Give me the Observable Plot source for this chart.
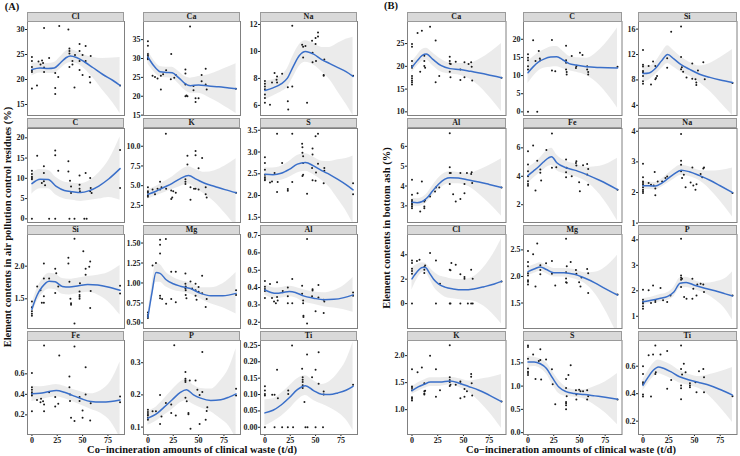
<!DOCTYPE html>
<html><head><meta charset="utf-8">
<script src="https://cdn.jsdelivr.net/npm/d3@7"></script>
<script src="https://cdn.jsdelivr.net/npm/@observablehq/plot@0.6"></script>
<style>
body{margin:0;background:#fff;}
#chart{position:relative;width:740px;height:456px;background:#fff;overflow:hidden;font-family:"Liberation Serif","Times New Roman",serif;font-weight:bold;color:#111;}
.strip{position:absolute;box-sizing:border-box;background:#d9d9d9;border:1px solid #9a9a9a;font-size:8px;line-height:8px;text-align:center;color:#1a1a1a;}
.lab{position:absolute;white-space:nowrap;line-height:1;}
</style></head><body><div id="chart"></div>
<script>
// ---------- data: x = co-incineration amount (t/d), y = content (%) ----------
// fit rows: [x, smoothed value, half-width of confidence band]
const xTicks = [0, 25, 50, 75];

// Panel A: air pollution control residues
const A_Cl_pts = [[0,24.5],[0,23.7],[0,22.5],[0,21.8],[0,21.5],[0,18.2],[5,18.8],[6.5,23.6],[8.5,23.0],[10,23.8],[11,23.3],[12,22.4],[12,21.5],[12,30.3],[17,24.3],[23,21.3],[23,18.3],[23,17.1],[26,20.5],[27,30.7],[36,30.0],[37,22.5],[37,25.2],[37,25.7],[37,26.2],[40,23.0],[40,23.7],[42,18.4],[42.5,24.9],[47,27.1],[47,25.7],[47,23.7],[47,21.9],[50,20.9],[50,24.9],[53,26.7],[53,23.7],[57,20.5],[57.5,19.4],[58,24.7],[87,18.8]];
const A_Cl_fit = [[0,22.0,1.3],[8,22.3,1.0],[16,22.2,1.0],[22,22.3,1.1],[28,23.3,1.2],[34,24.4,1.3],[38,24.7,1.3],[44,24.4,1.2],[52,23.5,1.4],[60,22.4,2.0],[70,21.0,3.2],[80,19.8,4.5],[87,18.8,5.6]];
const A_Cl_dom = [12.8, 31.6], A_Cl_ticks = [15,20,25,30];

const A_Ca_pts = [[0,34.6],[0,33.4],[0,31.2],[0,30.7],[0,30.3],[0,29.8],[0,30.0],[4.6,25.4],[7,25.1],[9.5,24.7],[12.8,25.4],[12.8,21.8],[15,25.8],[18,26.9],[22.6,24.5],[23,31.2],[26,24.9],[27.5,25.6],[37,27.1],[37,26.0],[37,23.1],[37,20.0],[38,20.2],[39,20.0],[41.6,38.5],[45,22.7],[45,21.6],[47,19.5],[47,18.5],[50,19.5],[53,25.6],[53,24.0],[57,27.3],[57,23.1],[58,21.8],[86.8,22.0]];
const A_Ca_fit = [[0,30.4,1.8],[6,28.0,1.5],[12,26.5,1.4],[18,26.3,1.4],[24,26.2,1.5],[30,25.0,1.6],[36,23.5,1.8],[42,22.8,2.0],[50,23.0,2.2],[60,22.7,3.0],[70,22.5,4.2],[80,22.2,5.6],[87,22.0,6.6]];
const A_Ca_dom = [14.9, 39.8], A_Ca_ticks = [15,20,25,30,35];

const A_Na_pts = [[0,7.8],[0,7.6],[0,7.4],[0,7.2],[0,6.8],[0,6.55],[0,6.2],[5,6.05],[7,7.7],[9.5,8.4],[11.5,7.9],[12,8.15],[12,7.7],[17,8.35],[22.6,6.3],[22.6,7.35],[23,5.7],[27,7.4],[27,11.9],[36.7,10.5],[37.7,10.35],[37.7,9.55],[40,10.4],[41.6,6.2],[46.5,10.8],[47,9.9],[47,9.2],[50,11.0],[50,10.55],[52.4,11.4],[52.4,11.1],[50.4,9.3],[58,8.25],[58,8.2],[58.6,9.4],[87,8.2]];
const A_Na_fit = [[0,7.1,0.7],[8,7.3,0.6],[16,7.6,0.6],[22,8.0,0.7],[28,8.9,0.8],[34,9.7,0.8],[40,10.0,0.8],[48,9.8,0.8],[56,9.4,0.9],[64,9.1,1.2],[72,8.8,1.8],[80,8.5,2.4],[87,8.15,2.9]];
const A_Na_dom = [5.25, 12.22], A_Na_ticks = [6,8,10,12];

const A_C_pts = [[0,0],[0,11.9],[0,11.1],[0,10.4],[0,10.1],[0,9.8],[5.2,15.6],[9.8,8.85],[11.8,13],[11.8,11.3],[11.8,9.3],[13,8.3],[17,0],[23,0],[23,16.9],[23,15.7],[26,11.9],[36,14.2],[36,11.7],[37,0],[37.6,9.4],[38.6,8.0],[38.6,6.4],[42,0],[47,10.7],[47,8.4],[47,7.4],[47.4,6.8],[51.7,0],[54,0],[53,11.3],[57.5,10.1],[57.5,6.8],[58,7.6],[58.9,6.4],[87,17],[87,7.6]];
const A_C_fit = [[0,8.7,2.6],[8,9.8,2.4],[16,9.7,2.3],[24,8.0,2.2],[32,7.0,2.1],[40,6.7,2.1],[48,6.5,2.2],[56,6.9,2.4],[66,8.1,3.2],[76,9.9,4.6],[87,12.4,7.8]];
const A_C_dom = [-0.9, 22.3], A_C_ticks = [0,5,10,15,20];

const A_K_pts = [[0,4.8],[0,4.3],[0,4.1],[0,3.8],[0,3.6],[4.6,4.5],[7,3.9],[9.5,4.6],[12,4.5],[12,5.5],[13.4,4.8],[17.7,11.6],[18,4.6],[23,4.4],[24,3.5],[25,4.3],[23,3.3],[27.5,4.1],[39,8.8],[39,7.7],[37,5.8],[37,5.2],[37,5.5],[47,9.4],[47,8.85],[53.5,8.5],[50,7.2],[42,4.8],[47,4.6],[50,4.5],[42,3.2],[57,4.8],[57,3.9],[58,3.5],[87,4.1],[45.5,4.6]];
const A_K_fit = [[0,3.9,0.6],[8,4.3,0.6],[16,4.8,0.7],[24,5.3,0.8],[32,5.9,1.0],[40,6.3,1.1],[48,5.8,1.2],[56,5.3,1.4],[66,4.9,2.0],[76,4.5,3.0],[87,4.1,4.3]];
const A_K_dom = [0.33, 12.25], A_K_ticks = [2.5,5,7.5,10];

const A_S_pts = [[0,2.88],[0,2.75],[0,2.59],[0,2.48],[0,2.42],[0,2.38],[0,2.35],[5,2.3],[7,2.32],[9.5,2.52],[12,3.42],[12,2.08],[12.6,2.31],[17,2.75],[22.6,2.15],[22.6,2.11],[27,3.42],[27,2.31],[36.7,3.19],[37,3.11],[37,2.98],[37.7,2.9],[37.7,2.75],[37.7,2.48],[37,2.45],[41.6,2.04],[46.5,2.63],[47,2.94],[47,3.08],[47,2.35],[50,3.36],[52.4,3.42],[50,2.34],[52.4,2.73],[50.4,2.53],[58,2.28],[58.6,2.57],[58.6,2.63],[87,2.28],[87,2.03]];
const A_S_fit = [[0,2.49,0.15],[8,2.48,0.15],[16,2.51,0.16],[24,2.6,0.18],[32,2.72,0.2],[40,2.76,0.2],[48,2.68,0.2],[56,2.57,0.22],[64,2.48,0.3],[72,2.37,0.45],[80,2.25,0.6],[87,2.13,0.78]];
const A_S_dom = [1.38, 3.54], A_S_ticks = [1.5,2,2.5,3,3.5];

const A_Si_pts = [[0,1.31],[0,1.27],[0,1.24],[0,1.46],[0,1.37],[5.2,1.69],[8.5,1.63],[9.8,1.44],[11.8,1.44],[11.8,1.54],[11.8,1.81],[11.8,2.04],[17,1.81],[23,1.96],[23,1.59],[26,1.69],[24,1.89],[36,2.13],[36,2.04],[37,1.76],[38,1.5],[38.6,1.43],[38.6,1.41],[42,2.42],[42,1.12],[47,1.61],[47,1.56],[47,1.53],[47,1.5],[47.4,1.74],[50.7,2.23],[53,1.87],[53,1.96],[56.6,1.99],[57.5,2.07],[58,1.62],[57.5,1.36],[87,1.7],[87,1.58]];
const A_Si_fit = [[0,1.34,0.08],[5,1.55,0.1],[10,1.68,0.11],[17,1.77,0.12],[23,1.76,0.12],[30,1.69,0.12],[37,1.68,0.12],[46,1.7,0.12],[55,1.72,0.12],[65,1.71,0.15],[75,1.68,0.22],[87,1.63,0.38]];
const A_Si_dom = [1.045, 2.485], A_Si_ticks = [1.5,2.0];

const A_Mg_pts = [[0,0.58],[0,0.56],[0,0.63],[0,0.6],[4.6,1.22],[7.9,1.25],[12,1.54],[12,1.48],[12,1.37],[12,0.84],[12,0.81],[17.7,1.55],[14,0.8],[18,0.74],[23,1.14],[27.5,1.14],[23,0.8],[27.5,0.76],[37,1.12],[37,0.99],[37,0.93],[37.3,0.955],[37.3,0.91],[37.3,0.85],[38,0.81],[42,1.02],[43.6,0.93],[47,0.99],[47,0.91],[47,0.84],[48,0.79],[50,0.95],[50,0.89],[53.5,1.09],[53.5,0.87],[58,0.8],[57,0.7],[87,0.91],[87,0.85]];
const A_Mg_fit = [[0,0.57,0.05],[4,0.88,0.09],[8,1.13,0.12],[12,1.12,0.11],[18,1.04,0.09],[25,0.99,0.08],[32,0.96,0.07],[42,0.93,0.07],[52,0.87,0.07],[62,0.84,0.1],[74,0.84,0.15],[87,0.87,0.26]];
const A_Mg_dom = [0.43, 1.607], A_Mg_ticks = [0.5,0.75,1,1.25,1.5];

const A_Al_pts = [[0,0.438],[0,0.405],[0,0.392],[0,0.38],[0,0.34],[5,0.42],[7,0.34],[9,0.32],[10.8,0.31],[12,0.43],[12,0.345],[12.6,0.325],[17.6,0.38],[22.6,0.31],[22.6,0.35],[22.6,0.4],[27,0.45],[27,0.31],[36.7,0.41],[36.7,0.364],[37.7,0.326],[37.7,0.31],[38,0.238],[38,0.23],[41.6,0.68],[41.6,0.193],[46.5,0.35],[47,0.383],[47,0.39],[50,0.263],[52.8,0.415],[52.8,0.343],[58,0.253],[58.6,0.32],[58,0.33],[87,0.372],[87,0.353]];
const A_Al_fit = [[0,0.386,0.03],[6,0.372,0.03],[12,0.367,0.03],[18,0.372,0.03],[24,0.377,0.03],[30,0.372,0.03],[38,0.352,0.035],[48,0.339,0.035],[58,0.33,0.04],[68,0.332,0.05],[78,0.342,0.07],[87,0.358,0.1]];
const A_Al_dom = [0.164, 0.706], A_Al_ticks = [0.2,0.3,0.4,0.5,0.6,0.7];

const A_Fe_pts = [[0,0.607],[0,0.47],[0,0.444],[0,0.421],[0,0.405],[0,0.389],[0,0.236],[5,0.346],[8.5,0.324],[9,0.356],[11,0.333],[12,0.876],[12,0.236],[12,0.301],[17,0.421],[23,0.373],[23,0.282],[26,0.308],[27,0.779],[37,0.574],[37,0.47],[37.6,0.399],[37.6,0.334],[38.6,0.171],[42,0.139],[42,0.867],[47,0.373],[47,0.334],[50,0.243],[50,0.171],[53,0.665],[53,0.399],[57.5,0.145],[58,0.314],[87,0.379],[87,0.324]];
const A_Fe_fit = [[0,0.405,0.075],[8,0.41,0.065],[16,0.425,0.06],[24,0.437,0.06],[32,0.42,0.06],[40,0.39,0.06],[48,0.36,0.065],[58,0.33,0.075],[68,0.325,0.11],[78,0.33,0.2],[87,0.345,0.37]];
const A_Fe_dom = [0.0085, 0.925], A_Fe_ticks = [0.2,0.4,0.6];

const A_P_pts = [[0,0.154],[0,0.147],[0,0.136],[0,0.129],[0,0.123],[0,0.141],[4.6,0.149],[7.9,0.149],[12,0.2],[12,0.11],[13.4,0.133],[17.7,0.175],[23,0.17],[23,0.144],[26,0.354],[27.5,0.136],[37,0.271],[37,0.25],[37,0.245],[37,0.24],[37,0.191],[38.3,0.18],[40,0.144],[40,0.14],[41.3,0.245],[42,0.095],[47,0.245],[48.8,0.216],[51,0.2],[51,0.11],[53.7,0.333],[53.7,0.209],[58.6,0.162],[58,0.15],[57,0.123],[87,0.219],[87,0.198]];
const A_P_fit = [[0,0.128,0.022],[8,0.14,0.022],[16,0.162,0.025],[24,0.185,0.03],[32,0.208,0.032],[38,0.216,0.033],[45,0.2,0.03],[52,0.19,0.03],[62,0.183,0.035],[72,0.185,0.06],[80,0.193,0.09],[87,0.203,0.14]];
const A_P_dom = [0.077, 0.369], A_P_ticks = [0.1,0.2,0.3];

const A_Ti_pts = [[0,0],[0,0.125],[0,0.112],[0,0.102],[0,0.097],[7.2,0.099],[9.5,0.099],[9.5,0],[12,0.176],[12.8,0.089],[17,0],[22.6,0],[23,0.112],[23,0.102],[26.8,0.25],[27.8,0],[36.7,0.179],[37.3,0.153],[37.3,0.145],[37.3,0.138],[37.3,0.128],[37.3,0.12],[39,0.077],[40,0],[42,0],[41.6,0.222],[46.5,0.153],[50,0.176],[50,0],[53,0.229],[53,0.133],[57.3,0],[58,0.109],[58,0.1],[87,0.13]];
const A_Ti_fit = [[0,0.044,0.04],[8,0.052,0.035],[16,0.068,0.035],[24,0.09,0.035],[32,0.115,0.033],[40,0.127,0.03],[48,0.112,0.03],[56,0.101,0.03],[64,0.1,0.04],[72,0.105,0.06],[80,0.113,0.09],[87,0.125,0.135]];
const A_Ti_dom = [-0.022, 0.265], A_Ti_ticks = [0,0.05,0.1,0.15,0.2,0.25];

// Panel B: bottom ash
const B_Ca_pts = [[0,24.9],[0,24.3],[0,21.2],[0,20.1],[0,19.7],[0,17.9],[0,17.4],[0,16.9],[0,16.5],[0,16.0],[5.4,27.3],[8,18.8],[9.6,27.8],[12,20.1],[12.8,19.7],[12,22.3],[12,21.2],[17.6,28.7],[23,25.7],[23,16.5],[26.5,17.9],[36.7,22.1],[36.7,21.2],[36.7,20.6],[36.7,18.8],[37.4,17.6],[37.7,20.5],[42.5,21.0],[47,17.0],[47,19.3],[51,20.9],[51,17.6],[55,20.5],[57.5,20.9],[58,19.9],[58.5,16.9],[87,17.5]];
const B_Ca_fit = [[0,19.8,1.2],[5,21.2,1.2],[10,22.4,1.3],[14,22.7,1.3],[20,21.6,1.4],[28,20.2,1.4],[37,19.5,1.2],[47,19.3,1.3],[57,18.9,1.8],[67,18.5,3.2],[77,18.0,5.2],[87,17.5,7.5]];
const B_Ca_dom = [9.2, 29.85], B_Ca_ticks = [10,15,20,25];

const B_C_pts = [[0,0],[0,15.9],[0,14.9],[0,14.2],[0,12.6],[0,11.7],[9,0],[5,19.7],[7.3,14.0],[10.5,16.8],[11.5,14.7],[12,14.2],[23.3,19.8],[23.3,11.4],[26.5,11.2],[37,18.2],[37,14.2],[37,13.5],[37,11.7],[37.6,11.0],[37.6,10.3],[42.5,15.4],[46.6,12.1],[47,12.6],[50.5,16.3],[53,15.7],[57.5,12.6],[57.5,11.7],[58.5,11.0],[58.5,10.3],[87,12.4]];
const B_C_fit = [[0,10.8,3.0],[5,12.4,2.7],[10,13.7,2.5],[16,14.6,2.5],[22,15.1,2.8],[28,15.2,2.8],[34,14.3,2.4],[40,13.3,2.0],[47,12.9,2.0],[57,12.4,2.4],[70,12.2,5.0],[87,12.1,11.0]];
const B_C_dom = [-1.0, 24.9], B_C_ticks = [0,5,10,15,20];

const B_Si_pts = [[0,12.7],[0,10.4],[0,10.1],[0,9.4],[0,9.2],[0,8.6],[0,7.8],[0,7.4],[5.5,10.2],[7.8,7.3],[9.8,10.9],[12,10.2],[12,8.1],[12.7,8.3],[13.7,8.6],[23.5,11.4],[27.4,15.6],[23.5,9.9],[37,16.4],[37,11.6],[37,9.7],[37.8,10.0],[39,9.3],[42.3,8.4],[47.9,10.6],[47.9,8.2],[51,8.1],[51.8,7.6],[51.8,7.2],[53.4,9.5],[58.6,10.8],[60,8.1],[87,7.5]];
const B_Si_fit = [[0,9.0,1.3],[6,9.1,1.1],[12,9.8,1.0],[18,11.0,1.2],[24,12.0,1.4],[30,11.3,1.3],[37,10.4,1.2],[45,9.7,1.1],[55,8.9,1.3],[65,8.4,2.2],[75,8.0,3.5],[87,7.6,5.2]];
const B_Si_dom = [2.4, 17.2], B_Si_ticks = [4,8,12,16];

const B_Al_pts = [[0,4.31],[0,3.56],[0,3.3],[0,3.22],[0,3.13],[0,3.05],[0,2.97],[0,2.88],[5.4,3.64],[8,2.71],[9.6,4.23],[12,2.97],[12,2.88],[12.8,3.3],[12,3.22],[17.6,3.47],[22.4,3.72],[23.3,3.93],[26.5,3.93],[36.7,6.66],[36.7,4.94],[36.7,4.65],[36.7,4.1],[37.7,4.65],[40,3.59],[42.5,3.22],[47,4.65],[47,3.35],[51,3.64],[51,4.1],[53.4,4.65],[57.5,4.6],[58,4.7],[58.5,4.15],[87,3.93]];
const B_Al_fit = [[0,3.18,0.2],[5,3.16,0.2],[10,3.22,0.2],[15,3.42,0.22],[20,3.75,0.25],[26,4.1,0.3],[32,4.35,0.3],[37,4.42,0.3],[45,4.4,0.28],[55,4.3,0.33],[65,4.2,0.6],[75,4.08,0.95],[87,3.93,1.45]];
const B_Al_dom = [2.16, 6.9], B_Al_ticks = [3,4,5,6];

const B_Fe_pts = [[0,5.76],[0,4.82],[0,4.35],[0,4.0],[0,3.65],[0,3.46],[0,3.34],[5,6.16],[7.3,3.0],[9,5.1],[12,4.24],[12,4.47],[12.8,3.7],[17.9,5.84],[23.3,7.0],[23.3,4.6],[27.5,4.64],[37,5.18],[37,3.93],[37,4.28],[37.5,4.6],[42.5,4.0],[46.6,4.94],[47,5.06],[47,4.76],[49.7,3.58],[50.4,2.94],[53.5,4.78],[57.5,4.87],[57.5,4.12],[58.5,4.52],[58.5,3.4],[87,3.06]];
const B_Fe_fit = [[0,4.05,0.55],[5,4.35,0.5],[10,4.65,0.5],[15,5.0,0.55],[20,5.3,0.6],[23,5.38,0.6],[28,4.95,0.55],[37,4.6,0.45],[47,4.4,0.45],[57,4.12,0.5],[70,3.7,1.0],[87,3.06,2.2]];
const B_Fe_dom = [0.75, 7.36], B_Fe_ticks = [2,4,6];

const B_Na_pts = [[0,2.94],[0,2.5],[0,2.36],[0,2.31],[0,2.25],[0,2.17],[0,2.09],[0,2.04],[0,1.98],[5.5,2.31],[7.8,2.25],[10.4,2.23],[11.4,2.67],[12,2.13],[12,1.91],[14.3,2.36],[18.6,2.36],[21.8,2.47],[23.5,2.52],[37,3.91],[37,3.04],[37,2.91],[37,2.69],[38,2.47],[41.4,2.17],[39.7,2.58],[46.3,2.33],[48.9,2.23],[51,2.09],[52,2.27],[48,2.82],[56,2.6],[58.6,2.78],[59.3,2.82],[57.6,2.5],[87,1.98]];
const B_Na_fit = [[0,2.22,0.13],[6,2.22,0.12],[12,2.21,0.12],[18,2.3,0.13],[24,2.45,0.15],[30,2.6,0.17],[37,2.73,0.17],[45,2.68,0.16],[55,2.55,0.17],[65,2.4,0.3],[75,2.22,0.5],[87,2.0,0.8]];
const B_Na_dom = [1.02, 4.09], B_Na_ticks = [1,2,3,4];

const B_Cl_pts = [[0,0],[0,3.54],[0,3.32],[0,2.86],[0,2.67],[0,2.45],[4.8,3.48],[7.3,3.6],[12,3.0],[12,2.78],[12,2.5],[12.8,3.13],[17.6,4.14],[23.3,3.54],[23.3,0],[27.2,1.63],[36.7,2.78],[37.4,2.73],[38.3,3.32],[42.5,3.18],[36.7,0],[37.4,0],[47,2.4],[47,0],[51,2.18],[51,2.04],[54.3,0],[57.5,2.78],[57.5,0],[59,0],[59,2.04],[87,1.82]];
const B_Cl_fit = [[0,2.02,0.9],[5,2.6,0.6],[10,2.95,0.4],[13,2.95,0.35],[17,2.5,0.45],[21,2.0,0.6],[26,1.6,0.7],[32,1.35,0.8],[40,1.2,0.8],[50,1.13,0.85],[60,1.2,1.0],[70,1.38,1.6],[80,1.6,2.6],[87,1.82,3.5]];
const B_Cl_dom = [-2.04, 5.66], B_Cl_ticks = [0,2,4];

const B_Mg_pts = [[0,2.48],[0,2.27],[0,2.19],[0,2.06],[0,2.02],[0,1.93],[0,1.9],[0,1.85],[5,2.42],[7.3,1.81],[9,2.62],[12,2.21],[12,2.12],[12,2.04],[17.6,2.25],[23.3,2.29],[23.3,2.05],[26.5,1.83],[37,2.71],[37,2.08],[37,1.96],[37,1.89],[37.7,1.88],[37.7,2.19],[41.5,2.27],[46.6,2.12],[47,2.05],[49.7,1.89],[51,1.81],[52,1.98],[57.5,2.14],[58.5,2.06],[58.5,1.69],[87,1.66]];
const B_Mg_fit = [[0,2.09,0.08],[6,2.14,0.08],[12,2.18,0.08],[18,2.13,0.08],[25,2.07,0.08],[35,2.07,0.08],[45,2.04,0.09],[55,1.97,0.1],[65,1.88,0.2],[75,1.77,0.4],[87,1.65,0.75]];
const B_Mg_dom = [1.02, 2.79], B_Mg_ticks = [1.5,2,2.5];

const B_P_pts = [[0,2.04],[0,1.65],[0,1.56],[0,1.5],[0,1.39],[0,1.3],[5.5,2.02],[7.8,1.52],[9.8,2.21],[12,1.63],[12,1.56],[17,2.11],[19.5,1.63],[23.5,1.56],[26.7,1.82],[37,4.04],[37,2.6],[37,2.51],[37,2.43],[37,2.15],[38,2.47],[40,1.76],[42.3,1.69],[48,1.69],[48,2.47],[48.9,2.08],[52,1.82],[52.8,2.25],[56,2.28],[58.6,2.25],[59.3,1.95],[87,1.82]];
const B_P_fit = [[0,1.57,0.12],[8,1.63,0.12],[16,1.7,0.14],[24,1.78,0.15],[30,1.95,0.18],[36,2.3,0.2],[42,2.33,0.2],[50,2.22,0.18],[60,2.1,0.2],[70,2.0,0.35],[80,1.88,0.6],[87,1.8,0.95]];
const B_P_dom = [0.52, 4.21], B_P_ticks = [1,2,3,4];

const B_K_pts = [[0,1.75],[0,1.43],[0,1.4],[0,1.36],[0,1.23],[0,1.2],[0,1.17],[5.4,1.69],[9.6,1.78],[12,1.49],[12,1.34],[12,1.3],[12,1.28],[12.8,1.35],[17.6,2.0],[23.3,1.75],[23.3,1.24],[27.2,1.36],[36.7,2.19],[36.7,1.6],[36.7,1.55],[36.7,1.51],[36.7,1.44],[37.4,1.46],[42.5,1.46],[47,1.52],[47,1.49],[47,1.21],[51,1.38],[51,1.24],[53.4,1.34],[57.5,1.66],[57.5,1.61],[58,1.49],[58.5,1.26],[87,1.15]];
const B_K_fit = [[0,1.35,0.07],[6,1.42,0.08],[12,1.47,0.08],[18,1.51,0.08],[27,1.51,0.08],[37,1.53,0.07],[46,1.49,0.08],[55,1.43,0.1],[65,1.36,0.2],[75,1.27,0.32],[87,1.15,0.5]];
const B_K_dom = [0.54, 2.28], B_K_ticks = [1,1.5,2];

const B_S_pts = [[0,1.87],[0,1.84],[0,1.59],[0,1.38],[0,1.31],[0,1.28],[0,1.24],[5,1.68],[7.3,1.15],[10.5,1.54],[12,1.79],[12,1.56],[12.8,1.14],[17.6,1.57],[23.3,1.36],[24,1.04],[26.5,0.61],[37,1.15],[37,0.96],[37,0.66],[37,0.63],[37,0.59],[37,0.5],[37.6,0.78],[39.3,1.24],[41.5,1.45],[46.6,0.91],[47,0.82],[47,0.71],[49.7,0.92],[51,0.89],[53.5,0.89],[57.5,0.91],[57.5,0.71],[58.5,0.78],[87,0.71]];
const B_S_fit = [[0,1.52,0.12],[6,1.52,0.1],[12,1.48,0.1],[18,1.38,0.12],[24,1.17,0.14],[30,0.98,0.14],[37,0.88,0.1],[45,0.84,0.08],[55,0.82,0.1],[65,0.79,0.2],[75,0.76,0.33],[87,0.72,0.55]];
const B_S_dom = [-0.04, 1.98], B_S_ticks = [0,0.5,1,1.5];

const B_Ti_pts = [[0,0.6],[0,0.544],[0,0.484],[0,0.47],[0,0.394],[0,0.38],[5.5,0.68],[7.8,0.38],[9.8,0.685],[12,0.75],[12,0.544],[12.5,0.556],[17,0.685],[23.5,0.71],[23.5,0.435],[27.4,0.5],[37,0.75],[37,0.58],[37,0.46],[37,0.44],[37,0.36],[38,0.54],[39.7,0.617],[41.4,0.556],[45.6,0.476],[45.6,0.46],[45.6,0.447],[51,0.484],[52,0.41],[54.4,0.564],[58.6,0.58],[59.3,0.52],[59.3,0.41],[87,0.382]];
const B_Ti_fit = [[0,0.46,0.04],[5,0.52,0.045],[10,0.57,0.05],[15,0.595,0.05],[20,0.585,0.05],[27,0.56,0.05],[35,0.525,0.045],[45,0.5,0.04],[55,0.48,0.045],[65,0.46,0.08],[75,0.43,0.13],[87,0.39,0.2]];
const B_Ti_dom = [0.103, 0.787], B_Ti_ticks = [0.2,0.4,0.6];

// ---------- facet tables built from the arrays ----------
const panelA = [
  {name:"Cl", pts:A_Cl_pts, fit:A_Cl_fit, dom:A_Cl_dom, ticks:A_Cl_ticks, fmt:"d"},
  {name:"Ca", pts:A_Ca_pts, fit:A_Ca_fit, dom:A_Ca_dom, ticks:A_Ca_ticks, fmt:"d"},
  {name:"Na", pts:A_Na_pts, fit:A_Na_fit, dom:A_Na_dom, ticks:A_Na_ticks, fmt:"d"},
  {name:"C",  pts:A_C_pts,  fit:A_C_fit,  dom:A_C_dom,  ticks:A_C_ticks,  fmt:"d"},
  {name:"K",  pts:A_K_pts,  fit:A_K_fit,  dom:A_K_dom,  ticks:A_K_ticks,  fmt:".1f"},
  {name:"S",  pts:A_S_pts,  fit:A_S_fit,  dom:A_S_dom,  ticks:A_S_ticks,  fmt:".1f"},
  {name:"Si", pts:A_Si_pts, fit:A_Si_fit, dom:A_Si_dom, ticks:A_Si_ticks, fmt:".1f"},
  {name:"Mg", pts:A_Mg_pts, fit:A_Mg_fit, dom:A_Mg_dom, ticks:A_Mg_ticks, fmt:".2f"},
  {name:"Al", pts:A_Al_pts, fit:A_Al_fit, dom:A_Al_dom, ticks:A_Al_ticks, fmt:".1f"},
  {name:"Fe", pts:A_Fe_pts, fit:A_Fe_fit, dom:A_Fe_dom, ticks:A_Fe_ticks, fmt:".1f"},
  {name:"P",  pts:A_P_pts,  fit:A_P_fit,  dom:A_P_dom,  ticks:A_P_ticks,  fmt:".1f"},
  {name:"Ti", pts:A_Ti_pts, fit:A_Ti_fit, dom:A_Ti_dom, ticks:A_Ti_ticks, fmt:".2f"}
];
const panelB = [
  {name:"Ca", pts:B_Ca_pts, fit:B_Ca_fit, dom:B_Ca_dom, ticks:B_Ca_ticks, fmt:"d"},
  {name:"C",  pts:B_C_pts,  fit:B_C_fit,  dom:B_C_dom,  ticks:B_C_ticks,  fmt:"d"},
  {name:"Si", pts:B_Si_pts, fit:B_Si_fit, dom:B_Si_dom, ticks:B_Si_ticks, fmt:"d"},
  {name:"Al", pts:B_Al_pts, fit:B_Al_fit, dom:B_Al_dom, ticks:B_Al_ticks, fmt:"d"},
  {name:"Fe", pts:B_Fe_pts, fit:B_Fe_fit, dom:B_Fe_dom, ticks:B_Fe_ticks, fmt:"d"},
  {name:"Na", pts:B_Na_pts, fit:B_Na_fit, dom:B_Na_dom, ticks:B_Na_ticks, fmt:"d"},
  {name:"Cl", pts:B_Cl_pts, fit:B_Cl_fit, dom:B_Cl_dom, ticks:B_Cl_ticks, fmt:"d"},
  {name:"Mg", pts:B_Mg_pts, fit:B_Mg_fit, dom:B_Mg_dom, ticks:B_Mg_ticks, fmt:".1f"},
  {name:"P",  pts:B_P_pts,  fit:B_P_fit,  dom:B_P_dom,  ticks:B_P_ticks,  fmt:"d"},
  {name:"K",  pts:B_K_pts,  fit:B_K_fit,  dom:B_K_dom,  ticks:B_K_ticks,  fmt:".1f"},
  {name:"S",  pts:B_S_pts,  fit:B_S_fit,  dom:B_S_dom,  ticks:B_S_ticks,  fmt:".1f"},
  {name:"Ti", pts:B_Ti_pts, fit:B_Ti_fit, dom:B_Ti_dom, ticks:B_Ti_ticks, fmt:".1f"}
];

// ---------- layout ----------
const chart = document.getElementById("chart");
const XDOM = [-4.35, 91.35];
const rowTops = [21, 127.5, 234, 340];
const PH = 94;
const layoutA = {lefts:[27, 143, 260], w:97};
const layoutB = {lefts:[407, 523, 638], w:98.5};

function facet(f, left, top, pw, showX) {
  const mL = 26, mB = showX ? 12 : 0;
  const rows = f.fit.map(([x, y, w]) => ({x, y, lo: y - w, hi: y + w}));
  const pts = f.pts.map(([x, y]) => ({x, y}));
  const svg = Plot.plot({
    width: mL + pw, height: PH + mB,
    marginLeft: mL, marginRight: 0, marginTop: 0, marginBottom: mB,
    style: "font-family:'Liberation Serif','Times New Roman',serif;font-weight:bold;font-size:8px;color:#222;background:transparent;overflow:visible;",
    x: {domain: XDOM, ticks: xTicks, tickSize: 2, tickPadding: 0.5, label: null, axis: showX ? "bottom" : null},
    y: {domain: f.dom, ticks: f.ticks, tickFormat: d3.format(f.fmt), tickSize: 2, tickPadding: 1, label: null},
    marks: [
      Plot.areaY(rows, {x: "x", y1: "lo", y2: "hi", fill: "#999", fillOpacity: 0.2, curve: "monotone-x", clip: true}),
      Plot.dot(pts, {x: "x", y: "y", r: 1, fill: "#1a1a1a", stroke: null, clip: true}),
      Plot.lineY(rows, {x: "x", y: "y", stroke: "#3a6fc9", strokeWidth: 1.5, curve: "monotone-x", clip: true}),
      Plot.frame({stroke: "#808080"})
    ]
  });
  svg.style.position = "absolute";
  svg.style.left = (left - mL) + "px";
  svg.style.top = top + "px";
  chart.appendChild(svg);
  const s = document.createElement("div");
  s.className = "strip";
  s.style.left = left + "px"; s.style.top = (top - 9.5) + "px";
  s.style.width = pw + "px"; s.style.height = "10px";
  s.textContent = f.name;
  chart.appendChild(s);
}
function panel(list, lay) {
  list.forEach((f, i) => {
    const r = Math.floor(i / 3), c = i % 3;
    facet(f, lay.lefts[c], rowTops[r], lay.w, r === 3);
  });
}
panel(panelA, layoutA);
panel(panelB, layoutB);

function label(text, x, y, size, rotate) {
  const d = document.createElement("div");
  d.className = "lab";
  d.textContent = text;
  d.style.fontSize = size + "px";
  d.style.left = x + "px"; d.style.top = y + "px";
  d.style.transform = "translate(-50%,-50%)" + (rotate ? " rotate(-90deg)" : "");
  chart.appendChild(d);
}
label("(A)", 12, 7, 10.5, false);
label("(B)", 391, 6, 10.5, false);
label("Co\u2212incineration amounts of clinical waste (t/d)", 192, 450, 10.5, false);
label("Co\u2212incineration amounts of clinical waste (t/d)", 571, 450, 10.5, false);
label("Element contents in air pollution control residues (%)", 7.5, 227, 10.5, true);
label("Element contents in bottom ash (%)", 387, 228, 10.5, true);
</script></body></html>
